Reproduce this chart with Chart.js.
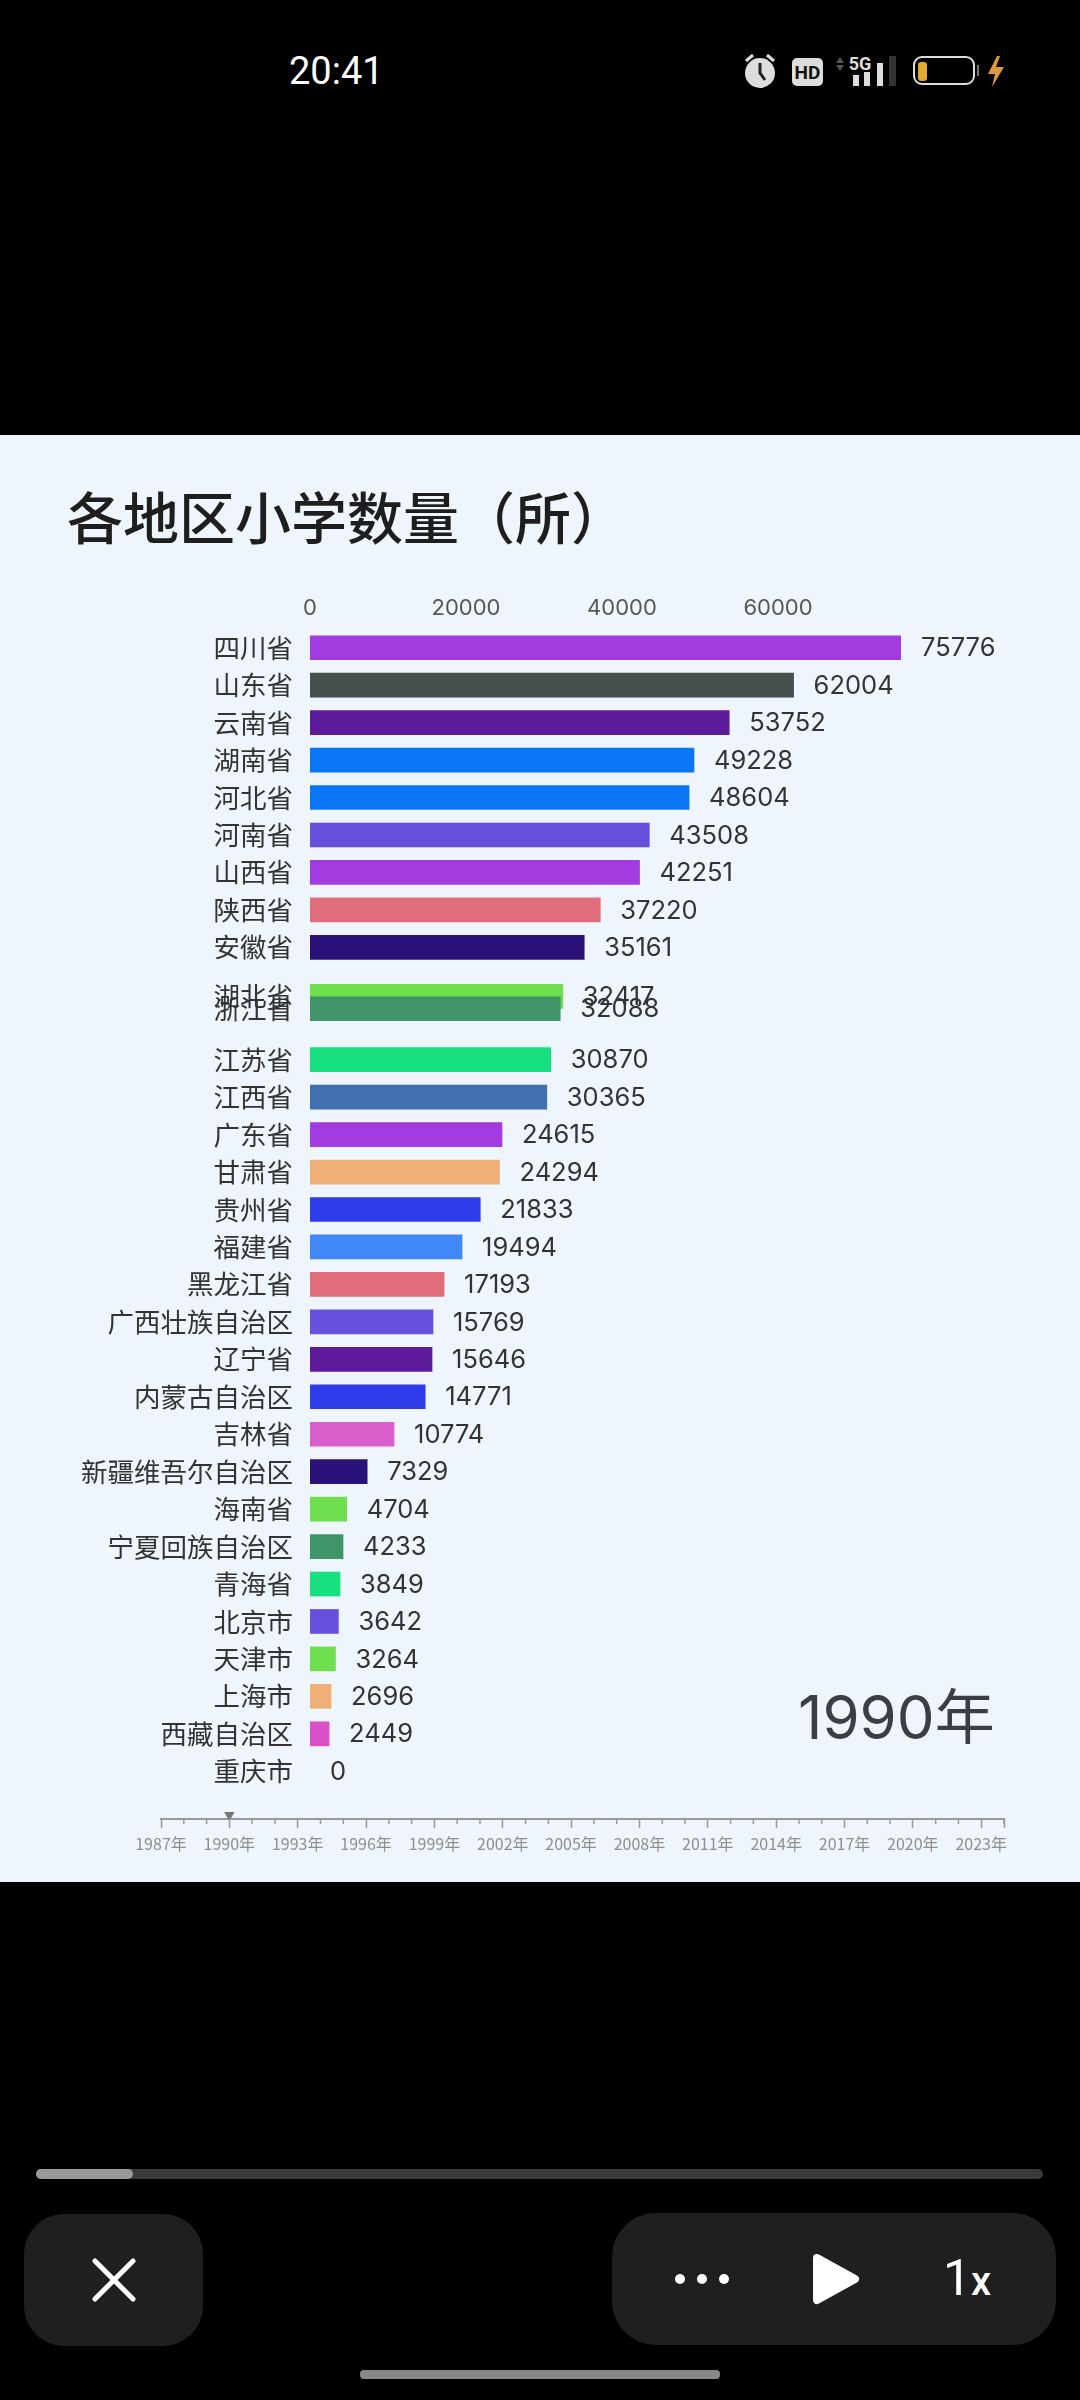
<!DOCTYPE html>
<html lang="zh-CN">
<head>
<meta charset="utf-8">
<title>各地区小学数量（所）</title>
<script src="https://cdn.jsdelivr.net/npm/chart.js@4/dist/chart.umd.min.js"></script>
<style>
  html, body { margin: 0; background: #000; }
  body { position: relative; width: 1080px; height: 2400px; overflow: hidden; font-family: "Noto Sans CJK SC", sans-serif; }
  #panel { position: absolute; left: 0; top: 435px; width: 1080px; height: 1447px; background: #eef5fd; }
  canvas { position: absolute; left: 0; }
  #main { top: 435px; }
  #timeline { top: 1795px; }
  #title { position: absolute; left: 67px; top: 475px; margin: 0; font-size: 56px; line-height: 80px; font-weight: 500; color: #1e1e1e; white-space: nowrap; }
  #year { position: absolute; left: 798px; top: 1672px; font-family: Inter, "Noto Sans CJK SC", sans-serif; font-size: 60px; line-height: 90px; font-weight: 400; color: #3a3f45; }
  #clock { position: absolute; left: 289px; top: 43px; font-size: 38px; line-height: 56px; color: #fff; font-family: Roboto, sans-serif; }
  #icons { position: absolute; left: 730px; top: 45px; }
  .box { position: absolute; background: #1f1f1f; }
  #close { left: 24px; top: 2214px; width: 179px; height: 132px; border-radius: 40px; }
  #controls { left: 612px; top: 2213px; width: 444px; height: 132px; border-radius: 44px; }
  #track { position: absolute; left: 36px; top: 2169px; width: 1007px; height: 10px; border-radius: 5px; background: #3a3a3a; }
  #progress { position: absolute; left: 36px; top: 2169px; width: 97px; height: 10px; border-radius: 5px; background: #999; }
  #home { position: absolute; left: 360px; top: 2370px; width: 360px; height: 9px; border-radius: 4px; background: #888; }
  #speed { position: absolute; left: 943px; top: 2246px; font-size: 50px; line-height: 64px; font-family: Roboto, sans-serif; font-weight: 400; color: #fff; }
  #speed span { font-size: 40px; font-weight: 500; }
  svg { position: absolute; }
</style>
</head>
<body>
<div id="panel"></div>
<h1 id="title">各地区小学数量（所）</h1>
<canvas id="main" width="1080" height="1360"></canvas>
<canvas id="timeline" width="1080" height="85"></canvas>
<div id="year">1990年</div>

<div id="clock">20:41</div>
<svg id="icons" width="290" height="50" viewBox="730 45 290 50">
  <circle cx="760" cy="73" r="15" fill="#ddd"/>
  <path d="M760 63v10l5 7" stroke="#222" stroke-width="3" fill="none"/>
  <path d="M746 61l7-6M774 61l-7-6" stroke="#ddd" stroke-width="3"/>
  <rect x="792" y="58" width="31" height="28" rx="5" fill="#ddd"/>
  <text x="807.5" y="79" text-anchor="middle" font-family="Roboto" font-weight="700" font-size="19" fill="#111">HD</text>
  <path d="M840 57l4 6h-8zM840 71l4-6h-8z" fill="#555"/>
  <text x="860" y="70" text-anchor="middle" font-family="Roboto" font-weight="700" font-size="18" fill="#ddd">5G</text>
  <rect x="853" y="75" width="6" height="11" fill="#ddd"/>
  <rect x="864" y="72" width="6" height="14" fill="#ddd"/>
  <rect x="877" y="63" width="6" height="23" fill="#ddd"/>
  <rect x="889" y="56" width="7" height="30" fill="#333"/>
  <rect x="914" y="57" width="60" height="27" rx="8" fill="none" stroke="#ddd" stroke-width="2"/>
  <rect x="918" y="62" width="9" height="19" rx="3" fill="#e0a92f"/>
  <rect x="977" y="65" width="2" height="11" fill="#777"/>
  <path d="M997 56l-9 18h7l-3 13 12-20h-8l4-11z" fill="#dd9a3c"/>
</svg>

<div id="track"></div>
<div id="progress"></div>
<div class="box" id="close"></div>
<svg width="44" height="44" viewBox="0 0 44 44" style="left:92px;top:2258px"><path d="M3 3L41 41M41 3L3 41" stroke="#fff" stroke-width="5" stroke-linecap="round"/></svg>
<div class="box" id="controls"></div>
<svg width="56" height="12" viewBox="0 0 56 12" style="left:674px;top:2273px"><circle cx="6" cy="6" r="5" fill="#fff"/><circle cx="28" cy="6" r="5" fill="#fff"/><circle cx="50" cy="6" r="5" fill="#fff"/></svg>
<svg width="48" height="54" viewBox="0 0 48 54" style="left:812px;top:2252px"><path d="M5 6L43 27L5 48Z" fill="#fff" stroke="#fff" stroke-width="8" stroke-linejoin="round"/></svg>
<div id="speed">1<span>x</span></div>
<div id="home"></div>

<script>
const PROVINCES = [
  '四川省', '山东省', '云南省', '湖南省', '河北省', '河南省', '山西省', '陕西省', '安徽省', '湖北省', '浙江省',
  '江苏省', '江西省', '广东省', '甘肃省', '贵州省', '福建省', '黑龙江省', '广西壮族自治区', '辽宁省', '内蒙古自治区',
  '吉林省', '新疆维吾尔自治区', '海南省', '宁夏回族自治区', '青海省', '北京市', '天津市', '上海市', '西藏自治区', '重庆市'
];
const SCHOOLS = [
  75776, 62004, 53752, 49228, 48604, 43508, 42251, 37220, 35161, 32417, 32088,
  30870, 30365, 24615, 24294, 21833, 19494, 17193, 15769, 15646, 14771,
  10774, 7329, 4704, 4233, 3849, 3642, 3264, 2696, 2449, 0
];
// frame is caught mid animation, so 湖北 and 浙江 sit between their ranks
const RANKS = [
  0, 1, 2, 3, 4, 5, 6, 7, 8, 9.31, 9.64,
  11, 12, 13, 14, 15, 16, 17, 18, 19, 20,
  21, 22, 23, 24, 25, 26, 27, 28, 29, 30
];
const VALUE_TICKS = [0, 20000, 40000, 60000];
const COLORS = [
  '#a23be0', '#464f4d', '#5d1a9b', '#0a75f5', '#0a75f5', '#6650dd', '#a23be0', '#e06c7c', '#2b1278', '#6fdf4f', '#3f9468',
  '#18e080', '#4170b0', '#a23be0', '#eeb077', '#2e3cec', '#3f88f5', '#e06c7c', '#6650dd', '#5d1a9b', '#2e3cec',
  '#da5fcd', '#2b1278', '#6fdf4f', '#3f9468', '#18e080', '#6650dd', '#6fdf4f', '#eeb077', '#da50c8', 'transparent'
];
const FIRST_YEAR = 1987;
const LAST_YEAR = 2024;
const CURRENT_YEAR = 1990;

const FONT = '"Noto Sans CJK SC", sans-serif';
const DIGIT_FONT = 'Inter, ' + FONT;
Chart.defaults.font.family = FONT;
Chart.defaults.animation = false;

// number at the end of every bar
let valueLabels = {
  id: 'valueLabels',
  afterDatasetsDraw: function(chart) {
    let ctx = chart.ctx;
    let bars = chart.getDatasetMeta(0).data;
    ctx.save();
    ctx.font = '25.5px ' + DIGIT_FONT;
    ctx.fillStyle = '#333';
    ctx.textBaseline = 'middle';
    ctx.textAlign = 'left';
    for (let i in bars) ctx.fillText(SCHOOLS[i], bars[i].x + 20, bars[i].y + 1);
    ctx.restore();
  }
};

new Chart(document.getElementById('main'), {
  type: 'bar',
  data: {
    datasets: [{
      data: SCHOOLS.map((v, i) => ({ x: v, y: RANKS[i] })),
      backgroundColor: COLORS,
      barThickness: 24,
    }],
  },
  plugins: [valueLabels],
  options: {
    indexAxis: 'y',
    responsive: false,
    devicePixelRatio: 1,
    layout: { padding: { right: 179, bottom: 5 } },
    plugins: { legend: { display: false }, tooltip: { enabled: false } },
    scales: {
      x: {
        position: 'top',
        min: 0,
        max: 75776,
        afterBuildTicks: function(scale) { scale.ticks = VALUE_TICKS.map(v => ({ value: v })); },
        afterFit: function(scale) {
          scale.height = 194;
          scale.paddingLeft = 0;
          scale.paddingRight = 0;
        },
        grid: { display: false, drawTicks: false },
        border: { display: false },
        ticks: {
          padding: 7,
          color: '#555',
          font: { family: DIGIT_FONT, size: 22 },
          maxRotation: 0,
          callback: function(value) { return value; },
        },
      },
      y: {
        type: 'linear',
        reverse: true,
        offset: false,
        min: -0.5,
        max: 30.5,
        afterBuildTicks: function(scale) { scale.ticks = RANKS.map(r => ({ value: r })); },
        afterFit: function(scale) {
          scale.width = 310;
          scale.paddingTop = 0;
          scale.paddingBottom = 0;
        },
        grid: { display: false, drawTicks: false },
        border: { display: false },
        ticks: {
          autoSkip: false,
          padding: 17,
          color: '#333',
          font: { size: 26.5 },
          callback: function(value, index) { return PROVINCES[index]; },
        },
      },
    },
  },
});

// short ticks for the years that carry no label
let minorTicks = {
  id: 'minorTicks',
  afterDraw: function(chart) {
    let ctx = chart.ctx;
    let scale = chart.scales.x;
    ctx.save();
    ctx.strokeStyle = '#999';
    ctx.lineWidth = 1.5;
    for (let t of scale.ticks) {
      if ((t.value - FIRST_YEAR) % 3 === 0) continue;
      let px = scale.getPixelForValue(t.value);
      ctx.beginPath();
      ctx.moveTo(px, scale.top);
      ctx.lineTo(px, scale.top + 5);
      ctx.stroke();
    }
    ctx.restore();
  }
};

new Chart(document.getElementById('timeline'), {
  type: 'scatter',
  data: {
    datasets: [{
      data: [{ x: CURRENT_YEAR, y: 0.22 }],
      pointStyle: 'triangle',
      rotation: 180,
      radius: 6,
      backgroundColor: '#777',
      borderWidth: 0,
    }],
  },
  plugins: [minorTicks],
  options: {
    responsive: false,
    devicePixelRatio: 1,
    layout: { padding: { left: 161, right: 76 } },
    plugins: { legend: { display: false }, tooltip: { enabled: false } },
    scales: {
      x: {
        type: 'linear',
        min: FIRST_YEAR,
        max: LAST_YEAR,
        afterFit: function(scale) {
          scale.height = 61;
          scale.paddingLeft = 0;
          scale.paddingRight = 0;
        },
        border: { color: '#999', width: 2 },
        grid: {
          drawOnChartArea: false,
          tickLength: 9,
          tickWidth: 1.5,
          tickColor: (c) => ((c.tick.value - FIRST_YEAR) % 3 === 0 || c.tick.value === LAST_YEAR) ? '#999' : 'transparent',
        },
        ticks: {
          stepSize: 1,
          autoSkip: false,
          maxRotation: 0,
          padding: 6,
          color: '#8f8f8f',
          font: { size: 16 },
          callback: function(value) {
            if (value === LAST_YEAR || (value - FIRST_YEAR) % 3 !== 0) return '';
            return value + '年';
          },
        },
      },
      y: { display: false, min: 0, max: 1 },
    },
  },
});
</script>
</body>
</html>
